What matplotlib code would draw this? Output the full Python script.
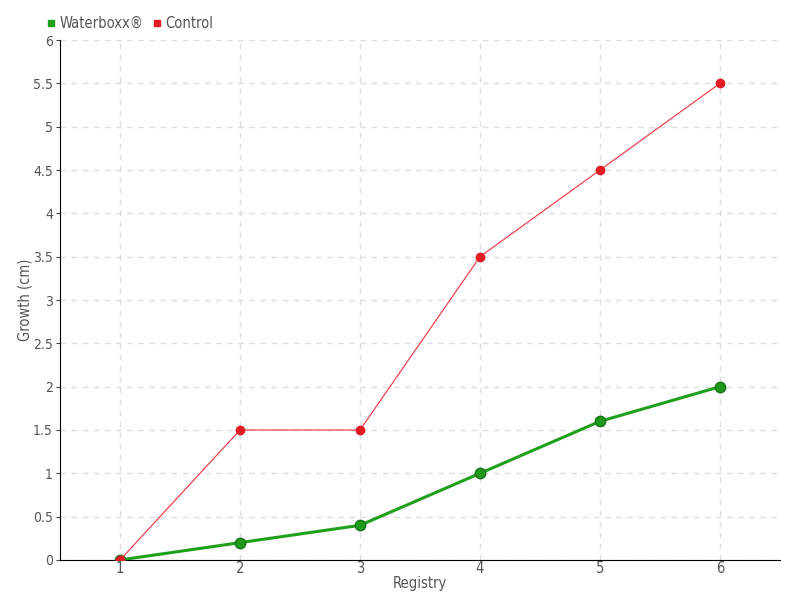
import matplotlib
matplotlib.use('Agg')
import matplotlib.pyplot as plt
from matplotlib.lines import Line2D

registry = [1, 2, 3, 4, 5, 6]
waterboxx = [0, 0.2, 0.4, 1.0, 1.6, 2.0]
control = [0, 1.5, 1.5, 3.5, 4.5, 5.5]
y_ticks = [0, 0.5, 1, 1.5, 2, 2.5, 3, 3.5, 4, 4.5, 5, 5.5, 6]

plt.rcParams['font.family'] = ['DejaVu Sans']
plt.rcParams['font.stretch'] = 'condensed'
txt = '#555555'

fig = plt.figure(figsize=(8, 6), dpi=100)
ax = fig.add_axes([0.075, 0.0667, 0.9, 0.8666])

ax.plot(registry, waterboxx, color='#1fa01a', lw=2.2, marker='o', ms=7.5,
        markerfacecolor='#1e9a18', markeredgecolor='#17731a', mew=1, zorder=3)
ax.plot(registry, control, color='#f0303a', lw=0.8, marker='o', ms=6,
        markerfacecolor='#e41b23', markeredgecolor='#e41b23', zorder=4)

ax.set_xlim(0.5, 6.5)
ax.set_ylim(0, 6)
ax.set_xticks(registry)
ax.set_yticks(y_ticks)
ax.set_yticklabels([('%g' % v) for v in y_ticks])
ax.grid(True, color='#dddddd', ls=(0, (4, 4)), lw=1)
ax.set_axisbelow(True)

for s in ['top', 'right']:
    ax.spines[s].set_visible(False)
ax.spines['left'].set_color('black')
ax.spines['bottom'].set_color('black')
ax.tick_params(axis='both', colors='#444444', labelcolor=txt, labelsize=10.5)
ax.tick_params(axis='x', length=0, pad=1)
ax.tick_params(axis='y', length=3, pad=2, labelsize=10)

ax.set_xlabel('Registry', color=txt, fontsize=10.5, labelpad=0)
ax.set_ylabel('Growth (cm)', color=txt, fontsize=10.5)
ax.yaxis.set_label_coords(-0.038, 0.5)

handles = [Line2D([], [], ls='none', marker='s', ms=4, color='#1fa01a'),
           Line2D([], [], ls='none', marker='s', ms=4, color='#e41b23')]
leg = fig.legend(handles, ['Waterboxx®', 'Control'], loc='upper left',
                 bbox_to_anchor=(0.042, 0.995), ncol=2, frameon=False,
                 handlelength=0.6, handletextpad=0.3, columnspacing=0.6,
                 fontsize=10.5)
for t in leg.get_texts():
    t.set_color(txt)

fig.savefig('out.png', dpi=100)
